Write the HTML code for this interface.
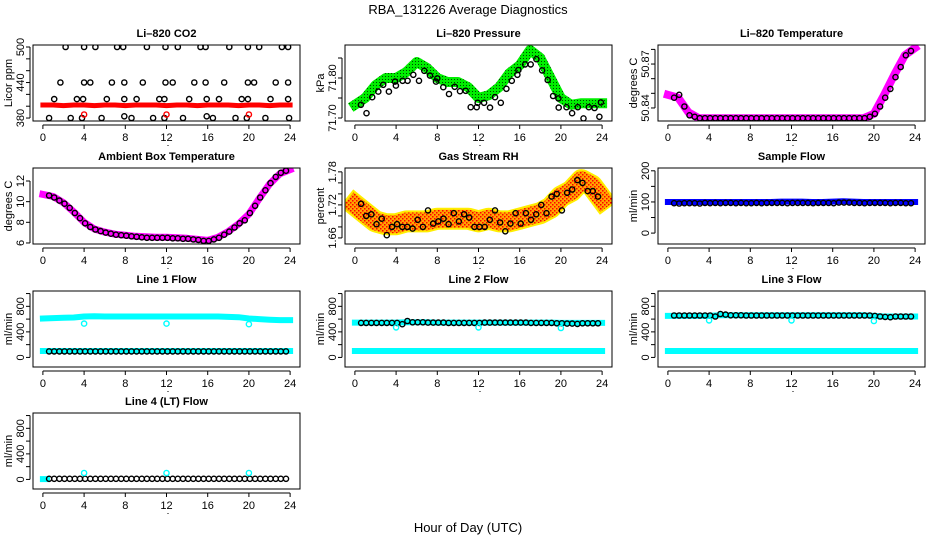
<!DOCTYPE html>
<html><head><meta charset="utf-8"><style>
html,body{margin:0;padding:0;background:#fff;}
svg{display:block;font-family:"Liberation Sans",Arial,sans-serif;}
</style></head><body>
<svg id="chart" width="936" height="540" viewBox="0 0 936 540" xmlns="http://www.w3.org/2000/svg">
<defs>
<pattern id="rhpat" width="4" height="4" patternUnits="userSpaceOnUse"><rect width="4" height="4" fill="#ffa500"/><rect x="0" y="0" width="1.5" height="1.5" fill="#ff0000"/><rect x="2" y="2" width="1.5" height="1.5" fill="#ff0000"/></pattern>
<pattern id="grpat" width="3" height="3" patternUnits="userSpaceOnUse"><rect width="3" height="3" fill="#00ee00"/><rect x="1" y="1" width="1" height="1" fill="#004400"/></pattern>
</defs>
<text x="468" y="14" text-anchor="middle" font-size="13">RBA_131226  Average Diagnostics</text>
<text x="468" y="532" text-anchor="middle" font-size="13">Hour of Day (UTC)</text>
</svg>
<script>
// ---- data ----
const bandHours = [0,1,2,3,4,5,6,7,8,9,10,11,12,13,14,15,16,17,18,19,20,21,22,23,24];
const circHours = [0.6,1.1,1.6,2.1,2.6,3.1,3.6,4.1,4.6,5.1,5.6,6.1,6.6,7.1,7.6,8.1,8.6,9.1,9.6,10.1,10.6,11.1,11.6,12.1,12.6,13.1,13.6,14.1,14.6,15.1,15.6,16.1,16.6,17.1,17.6,18.1,18.6,19.1,19.6,20.1,20.6,21.1,21.6,22.1,22.6,23.1,23.6];
const outlierHours = [4,12,20];

const co2Band = [402,402,401,402,402,401,402,402,401,402,402,402,401,402,402,401,402,402,402,401,402,402,401,402,402];
const co2Hours = [2.2,4.0,5.1,7.2,7.8,10.1,11.9,13.1,15.3,15.8,18.1,19.9,21.0,23.2,23.8,
 1.7,4.0,4.6,6.7,7.9,9.7,11.9,12.6,14.7,15.8,17.6,19.9,20.5,22.6,23.8,
 1.1,3.3,3.9,6.2,7.9,9.1,11.3,11.8,14.2,15.9,17.1,19.3,19.9,22.1,23.8,
 0.6,2.7,3.8,5.7,7.9,8.6,10.7,11.8,13.6,15.9,16.5,18.7,19.8,21.6,23.9];
const co2Vals = [500,500,500,500,500,500,500,500,500,500,500,500,500,500,500,
 440,440,440,440,440,440,440,440,440,440,440,440,440,440,440,
 412,412,412,412,412,412,412,412,412,412,412,412,412,412,412,
 380,380,380,380,383,380,380,380,380,383,380,380,380,380,380];
const co2Outliers = [386,386,386];

const presBand = [71.733,71.75,71.782,71.80,71.80,71.815,71.84,71.825,71.80,71.79,71.79,71.777,71.75,71.757,71.777,71.812,71.832,71.87,71.85,71.80,71.75,71.733,71.737,71.737,71.737];
const presHours = [0.58,1.13,1.68,2.27,2.75,3.3,3.89,3.98,4.63,5.12,5.67,6.22,6.74,7.29,7.87,8.0,8.58,9.14,9.69,10.2,10.76,11.24,11.83,11.92,12.54,13.12,13.6,14.16,14.71,15.23,15.78,15.87,16.52,17.07,17.62,18.17,18.72,19.24,19.79,19.76,20.54,21.09,21.64,22.19,22.71,23.26,23.74,23.88];
const presVals = [71.733,71.712,71.752,71.766,71.783,71.766,71.791,71.781,71.793,71.793,71.808,71.793,71.818,71.806,71.791,71.799,71.777,71.76,71.778,71.767,71.768,71.727,71.727,71.738,71.738,71.726,71.752,71.738,71.773,71.793,71.808,71.82,71.834,71.834,71.847,71.819,71.795,71.755,71.726,71.749,71.727,71.712,71.727,71.699,71.727,71.725,71.703,71.739];

const ltBand = [50.849,50.847,50.837,50.833,50.833,50.833,50.833,50.833,50.833,50.833,50.833,50.833,50.833,50.833,50.833,50.833,50.833,50.833,50.833,50.833,50.836,50.849,50.863,50.876,50.881];
const ltCirc = [50.847,50.849,50.841,50.835,50.834,50.833,50.833,50.833,50.833,50.833,50.833,50.833,50.833,50.833,50.833,50.833,50.833,50.833,50.833,50.833,50.833,50.833,50.833,50.833,50.833,50.833,50.833,50.833,50.833,50.833,50.833,50.833,50.833,50.833,50.833,50.833,50.833,50.833,50.834,50.836,50.841,50.847,50.853,50.861,50.868,50.876,50.879];

const ambBand = [10.7,10.5,9.9,9.0,8.0,7.35,7.05,6.85,6.75,6.65,6.6,6.55,6.55,6.5,6.45,6.35,6.25,6.55,7.1,7.85,8.8,10.3,11.7,12.7,13.1];
const ambCirc = [10.6,10.4,10.1,9.8,9.4,8.9,8.4,7.9,7.55,7.3,7.15,7.0,6.9,6.8,6.75,6.7,6.65,6.6,6.55,6.5,6.5,6.5,6.5,6.5,6.45,6.45,6.4,6.4,6.35,6.3,6.2,6.2,6.35,6.5,6.8,7.1,7.5,7.9,8.2,8.9,9.6,10.4,11.1,11.8,12.4,12.8,13.0];

const rhBand = [1.72,1.705,1.69,1.685,1.685,1.69,1.69,1.69,1.695,1.695,1.695,1.695,1.69,1.695,1.69,1.69,1.695,1.70,1.705,1.715,1.735,1.745,1.765,1.755,1.73];
const rhCirc = [1.722,1.70,1.703,1.685,1.695,1.665,1.68,1.685,1.68,1.68,1.677,1.693,1.68,1.71,1.686,1.69,1.695,1.685,1.705,1.69,1.703,1.697,1.68,1.68,1.68,1.693,1.71,1.688,1.672,1.686,1.705,1.686,1.705,1.693,1.703,1.72,1.705,1.735,1.74,1.71,1.742,1.748,1.765,1.76,1.745,1.745,1.735];

const sfBand = [100,100,100,100,100,100,100,100,100,100,100,101,101,101,100,100,101,102,101,100,100,100,100,100,100];
const sfCirc = [96,95,96,96,96,95,97,96,97,96,97,97,96,97,96,96,97,96,97,97,97,97,96,97,97,97,97,96,97,97,97,96,98,98,98,97,97,96,97,97,97,97,96,97,97,96,96];

const l1Upper = [610,615,620,625,640,645,640,640,640,640,640,640,640,640,640,640,640,640,635,630,610,600,590,585,585];
const l1Lower = [100,100,100,100,100,100,100,100,100,100,100,100,100,100,100,100,100,100,100,100,100,100,100,100,100];
const l1Circ = [95,95,95,95,95,95,95,95,95,95,95,95,95,95,95,95,95,95,95,95,95,95,95,95,95,95,95,95,95,95,95,95,95,95,95,95,95,95,95,95,95,95,95,95,95,95,95];
const l1Out = [530,530,520];

const l2Upper = [545,545,545,545,545,550,550,550,545,545,545,545,545,545,545,545,545,545,545,545,540,540,540,540,540];
const l2Lower = [100,100,100,100,100,100,100,100,100,100,100,100,100,100,100,100,100,100,100,100,100,100,100,100,100];
const l2Circ = [540,540,540,540,540,540,540,540,520,570,550,550,550,545,545,545,545,540,540,540,540,540,540,540,545,545,545,545,545,545,545,545,545,540,540,540,540,540,535,535,530,530,525,535,535,535,535];
const l2Out = [470,470,460];

const l3Upper = [650,650,650,650,650,660,660,660,660,660,660,660,660,660,660,660,660,660,660,660,650,640,640,640,640];
const l3Lower = [100,100,100,100,100,100,100,100,100,100,100,100,100,100,100,100,100,100,100,100,100,100,100,100,100];
const l3Circ = [656,656,656,656,656,656,656,656,640,680,670,660,660,660,656,656,656,656,656,656,656,656,656,656,656,656,656,656,656,656,656,656,656,656,656,656,656,656,656,650,640,635,630,640,640,640,640];
const l3Out = [580,580,570];

const l4Lower = [5,5];
const l4LowerHours = [0,0.4];
const l4Circ = [10,10,10,10,10,10,10,10,10,10,10,10,10,10,10,10,10,10,10,10,10,10,10,10,10,10,10,10,10,10,10,10,10,10,10,10,10,10,10,10,10,10,10,10,10,10,10];
const l4Out = [100,100,100];

// ---- drawing ----
const svg = document.getElementById('chart');
const NS = 'http://www.w3.org/2000/svg';
const colLeft = [33,345,658];
const rowTop = [45,168,291,413];
const W = 267, H = 76;
function mk(tag, attrs, parent){
  const e = document.createElementNS(NS, tag);
  for (const k in attrs) e.setAttribute(k, attrs[k]);
  (parent||svg).appendChild(e);
  return e;
}
function panel(name, title, ylab, col, row, ydom, ticks, labels){
  const L = colLeft[col], T = rowTop[row];
  const g = mk('g', {});
  
  
  const sx = h => L + (h + 0.96) / 25.92 * W;
  const sy = v => T + H - (v - ydom[0]) / (ydom[1] - ydom[0]) * H;
  const t = mk('text', {x: L + W/2, y: T - 8, 'text-anchor': 'middle', 'font-size': 11, 'font-weight': 'bold'}, g);
  t.textContent = title;
  
  
  // x axis
  const xa = mk('g', {}, g);
  
  
  mk('line', {x1: sx(0), x2: sx(24), y1: T+H+4, y2: T+H+4, stroke: '#000'}, xa);
  for (let h = 0; h <= 24; h += 4){
    mk('line', {x1: sx(h), x2: sx(h), y1: T+H+4, y2: T+H+8, stroke: '#000'}, xa);
    const tl = mk('text', {x: sx(h), y: T+H+20, 'text-anchor': 'middle', 'font-size': 11}, xa);
    tl.textContent = h;
  }
  mk('rect', {x: sx(12)+1, y: T+H+24, width: 1, height: 1, fill: '#000'}, xa);
  // y axis
  const ya = mk('g', {}, g);
  
  
  mk('line', {x1: L-3, x2: L-3, y1: sy(ticks[0]), y2: sy(ticks[ticks.length-1]), stroke: '#000'}, ya);
  ticks.forEach((v, i) => {
    mk('line', {x1: L-3, x2: L-7, y1: sy(v), y2: sy(v), stroke: '#000'}, ya);
    if (labels[i] !== ''){
      const yl = mk('text', {transform: `translate(${L-9},${sy(v)}) rotate(-90)`, 'text-anchor': 'middle', 'font-size': 11}, ya);
      yl.textContent = labels[i];
    }
  });
  const yt = mk('text', {transform: `translate(${L-21},${T+H/2}) rotate(-90)`, 'text-anchor': 'middle', 'font-size': 11}, g);
  yt.textContent = ylab;
  
  
  const clip = 'clip-' + name;
  const cp = mk('clipPath', {id: clip}, g);
  mk('rect', {x: L, y: T, width: W, height: H}, cp);
  const plot = mk('g', {'clip-path': `url(#${clip})`}, g);
  mk('rect', {x: L, y: T, width: W, height: H, fill: 'none', stroke: '#000'}, g);
  return {sx, sy, plot};
}
function band(p, name, hours, vals, color, w){
  const pts = hours.map((h, i) => p.sx(h).toFixed(1) + ',' + p.sy(vals[i]).toFixed(1)).join(' ');
  const pl = mk('polyline', {points: pts, fill: 'none', stroke: color, 'stroke-width': w, 'stroke-linejoin': 'round', 'stroke-linecap': 'square'}, p.plot);
  
  
}
function circles(p, name, hours, vals, color, r, sw){
  const g = mk('g', {}, p.plot);
  
  
  hours.forEach((h, i) => {
    mk('circle', {cx: p.sx(h).toFixed(1), cy: p.sy(vals[i]).toFixed(1), r: r||2.6, fill: 'none', stroke: color||'#000', 'stroke-width': sw||1.4}, g);
  });
}

let p;
p = panel('co2', 'Li\u2013820 CO2', 'Licor ppm', 0, 0, [375,503.4], [380,400,420,440,460,480,500], ['380','','','440','','','500']);
band(p, 'co2-band', bandHours, co2Band, '#ff0000', 5);
circles(p, 'co2-points', co2Hours, co2Vals);
circles(p, 'co2-outliers', outlierHours, co2Outliers, '#ff0000');

p = panel('pressure', 'Li\u2013820 Pressure', 'kPa', 1, 0, [71.6925,71.8825], [71.70,71.75,71.80,71.85], ['71.70','','71.80','']);
band(p, 'pressure-band', bandHours, presBand, 'url(#grpat)', 10);
circles(p, 'pressure-points', presHours, presVals);

p = panel('li-temp', 'Li\u2013820 Temperature', 'degrees C', 2, 0, [50.8311,50.883], [50.84,50.85,50.86,50.87,50.88], ['50.84','','','50.87','']);
band(p, 'li-temp-band', bandHours, ltBand, '#ff00ff', 8);
circles(p, 'li-temp-points', circHours, ltCirc);

p = panel('ambient', 'Ambient Box Temperature', 'degrees C', 0, 1, [5.9,13.26], [6,8,10,12], ['6','8','10','12']);
band(p, 'ambient-band', bandHours, ambBand, '#ff00ff', 7);
circles(p, 'ambient-points', circHours, ambCirc);

p = panel('rh', 'Gas Stream RH', 'percent', 1, 1, [1.649,1.787], [1.66,1.68,1.70,1.72,1.74,1.76,1.78], ['1.66','','','1.72','','','1.78']);
band(p, 'rh-band-outline', bandHours, rhBand, '#ffee00', 22);
band(p, 'rh-band', bandHours, rhBand, 'url(#rhpat)', 18);
circles(p, 'rh-points', circHours, rhCirc);

p = panel('sample-flow', 'Sample Flow', 'ml/min', 2, 1, [-35,209], [0,50,100,150,200], ['0','','100','','200']);
band(p, 'sample-flow-band', bandHours, sfBand, '#0000ff', 6);
circles(p, 'sample-flow-points', circHours, sfCirc);

const flowTicks = [0,200,400,600,800,1000];
const flowLabels = ['0','','400','','800',''];
p = panel('line1', 'Line 1 Flow', 'ml/min', 0, 2, [-150,1040], flowTicks, flowLabels);
band(p, 'line1-upper-band', bandHours, l1Upper, '#00ffff', 6);
band(p, 'line1-lower-band', bandHours, l1Lower, '#00ffff', 6);
circles(p, 'line1-points', circHours, l1Circ);
circles(p, 'line1-outliers', outlierHours, l1Out, '#00ffff');

p = panel('line2', 'Line 2 Flow', 'ml/min', 1, 2, [-150,1040], flowTicks, flowLabels);
band(p, 'line2-upper-band', bandHours, l2Upper, '#00ffff', 6);
band(p, 'line2-lower-band', bandHours, l2Lower, '#00ffff', 6);
circles(p, 'line2-points', circHours, l2Circ);
circles(p, 'line2-outliers', outlierHours, l2Out, '#00ffff');

p = panel('line3', 'Line 3 Flow', 'ml/min', 2, 2, [-150,1040], flowTicks, flowLabels);
band(p, 'line3-upper-band', bandHours, l3Upper, '#00ffff', 6);
band(p, 'line3-lower-band', bandHours, l3Lower, '#00ffff', 6);
circles(p, 'line3-points', circHours, l3Circ);
circles(p, 'line3-outliers', outlierHours, l3Out, '#00ffff');

p = panel('line4', 'Line 4 (LT) Flow', 'ml/min', 0, 3, [-150,1040], flowTicks, flowLabels);
band(p, 'line4-lower-band', l4LowerHours, l4Lower, '#00ffff', 6);
circles(p, 'line4-points', circHours, l4Circ);
circles(p, 'line4-outliers', outlierHours, l4Out, '#00ffff');
</script>
</body></html>
